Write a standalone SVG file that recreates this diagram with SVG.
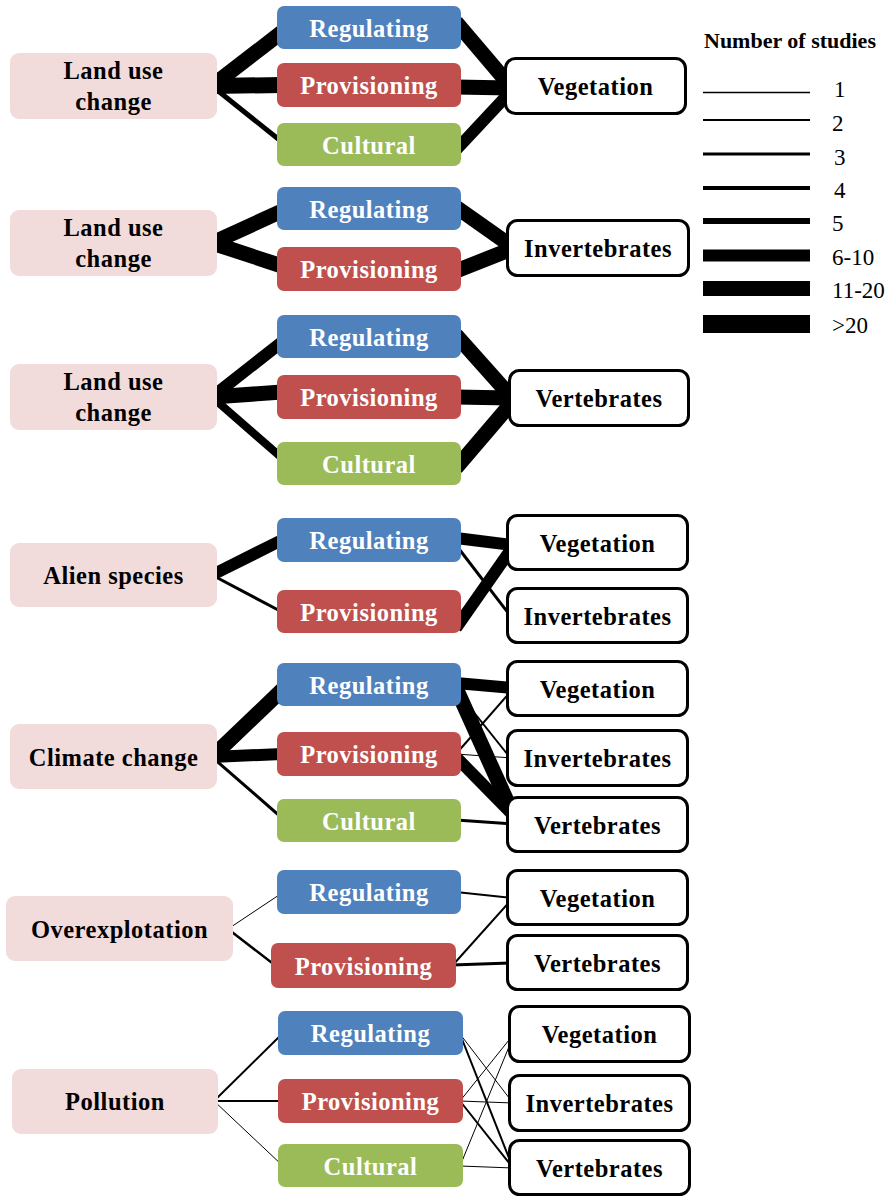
<svg xmlns="http://www.w3.org/2000/svg" width="893" height="1196" viewBox="0 0 893 1196">
<style>
.drv{fill:#F2DCDB}
.reg{fill:#4F81BD}
.pro{fill:#C0504D}
.cul{fill:#9BBB59}
.tgt{fill:#FFFFFF;stroke:#000;stroke-width:3}
.t{font-family:"Liberation Serif","Times New Roman",serif;font-weight:bold;font-size:24.5px;text-anchor:middle;letter-spacing:0.5px}
.w{fill:#FFFFFF}
.k{fill:#000000}
.lg{font-family:"Liberation Serif","Times New Roman",serif;font-size:23px;fill:#000}
.lt{font-family:"Liberation Serif","Times New Roman",serif;font-weight:bold;font-size:22px;fill:#000}
#connectors line,#legend line{stroke:#000;stroke-linecap:butt}
</style>
<rect width="893" height="1196" fill="#FFFFFF"/>
<g id="connectors">
<line x1="212" y1="86" x2="282" y2="32" stroke-width="15"/>
<line x1="212" y1="86" x2="282" y2="85" stroke-width="16"/>
<line x1="212" y1="86" x2="282" y2="142" stroke-width="5"/>
<line x1="456" y1="22" x2="512" y2="88" stroke-width="15"/>
<line x1="456" y1="87" x2="512" y2="88" stroke-width="15"/>
<line x1="456" y1="150" x2="512" y2="90" stroke-width="12"/>
<line x1="212" y1="243" x2="282" y2="211" stroke-width="15"/>
<line x1="212" y1="243" x2="282" y2="266" stroke-width="15"/>
<line x1="456" y1="207" x2="514" y2="248" stroke-width="15"/>
<line x1="456" y1="271" x2="514" y2="248" stroke-width="15"/>
<line x1="212" y1="397" x2="282" y2="342" stroke-width="12"/>
<line x1="212" y1="397" x2="282" y2="392" stroke-width="15"/>
<line x1="212" y1="397" x2="282" y2="458" stroke-width="8"/>
<line x1="456" y1="335" x2="514" y2="400" stroke-width="15"/>
<line x1="456" y1="397" x2="514" y2="398" stroke-width="15"/>
<line x1="456" y1="468" x2="514" y2="400" stroke-width="15"/>
<line x1="212" y1="575" x2="282" y2="540" stroke-width="12"/>
<line x1="212" y1="575" x2="282" y2="612" stroke-width="3"/>
<line x1="456" y1="538" x2="512" y2="545" stroke-width="12"/>
<line x1="456" y1="545" x2="512" y2="618" stroke-width="3"/>
<line x1="456" y1="628" x2="512" y2="548" stroke-width="12"/>
<line x1="212" y1="757" x2="282" y2="690" stroke-width="15"/>
<line x1="212" y1="757" x2="282" y2="754" stroke-width="12"/>
<line x1="212" y1="757" x2="282" y2="818" stroke-width="3"/>
<line x1="456" y1="683" x2="512" y2="688" stroke-width="12"/>
<line x1="456" y1="690" x2="512" y2="760" stroke-width="2"/>
<line x1="456" y1="688" x2="512" y2="812" stroke-width="15"/>
<line x1="456" y1="754" x2="512" y2="690" stroke-width="2"/>
<line x1="456" y1="754" x2="512" y2="758" stroke-width="1"/>
<line x1="456" y1="757" x2="512" y2="814" stroke-width="12"/>
<line x1="456" y1="820" x2="512" y2="824" stroke-width="3"/>
<line x1="228" y1="929" x2="282" y2="893" stroke-width="1"/>
<line x1="228" y1="929" x2="276" y2="966" stroke-width="2.5"/>
<line x1="456" y1="892" x2="512" y2="898" stroke-width="2"/>
<line x1="452" y1="966" x2="512" y2="899" stroke-width="2"/>
<line x1="452" y1="965" x2="512" y2="963" stroke-width="3"/>
<line x1="214" y1="1101" x2="283" y2="1033" stroke-width="2"/>
<line x1="214" y1="1101" x2="283" y2="1101" stroke-width="2"/>
<line x1="214" y1="1101" x2="283" y2="1166" stroke-width="1"/>
<line x1="460" y1="1034" x2="513" y2="1103" stroke-width="1"/>
<line x1="460" y1="1034" x2="513" y2="1168" stroke-width="2"/>
<line x1="460" y1="1101" x2="513" y2="1035" stroke-width="1"/>
<line x1="460" y1="1101" x2="513" y2="1103" stroke-width="1"/>
<line x1="460" y1="1101" x2="513" y2="1168" stroke-width="2"/>
<line x1="460" y1="1166" x2="513" y2="1037" stroke-width="1"/>
<line x1="460" y1="1166" x2="513" y2="1168" stroke-width="1"/>
</g>

<g id="s1-driver"><rect class="drv" x="10" y="53" width="207" height="66" rx="9"/><text class="t k" x="113.5" y="79">Land use</text><text class="t k" x="113.5" y="110">change</text></g>
<g id="s1-reg"><rect class="reg" x="277" y="6" width="184" height="43" rx="7"/><text class="t w" x="369" y="36.5">Regulating</text></g>
<g id="s1-pro"><rect class="pro" x="277" y="63" width="184" height="44" rx="7"/><text class="t w" x="369" y="94">Provisioning</text></g>
<g id="s1-cul"><rect class="cul" x="277" y="123" width="184" height="43" rx="7"/><text class="t w" x="369" y="153.5">Cultural</text></g>
<g id="s1-veg"><rect class="tgt" x="505.5" y="58.5" width="180" height="55" rx="10"/><text class="t k" x="595.5" y="95">Vegetation</text></g>

<g id="s2-driver"><rect class="drv" x="10" y="210" width="207" height="66" rx="9"/><text class="t k" x="113.5" y="236">Land use</text><text class="t k" x="113.5" y="267">change</text></g>
<g id="s2-reg"><rect class="reg" x="277" y="187" width="184" height="43" rx="7"/><text class="t w" x="369" y="217.5">Regulating</text></g>
<g id="s2-pro"><rect class="pro" x="277" y="247" width="184" height="44" rx="7"/><text class="t w" x="369" y="278">Provisioning</text></g>
<g id="s2-inv"><rect class="tgt" x="507.5" y="220.5" width="181" height="55" rx="10"/><text class="t k" x="598" y="257">Invertebrates</text></g>

<g id="s3-driver"><rect class="drv" x="10" y="364" width="207" height="66" rx="9"/><text class="t k" x="113.5" y="390">Land use</text><text class="t k" x="113.5" y="421">change</text></g>
<g id="s3-reg"><rect class="reg" x="277" y="315" width="184" height="43" rx="7"/><text class="t w" x="369" y="345.5">Regulating</text></g>
<g id="s3-pro"><rect class="pro" x="277" y="375" width="184" height="44" rx="7"/><text class="t w" x="369" y="406">Provisioning</text></g>
<g id="s3-cul"><rect class="cul" x="277" y="442" width="184" height="43" rx="7"/><text class="t w" x="369" y="472.5">Cultural</text></g>
<g id="s3-vert"><rect class="tgt" x="509.5" y="370.5" width="179" height="55" rx="10"/><text class="t k" x="599" y="406.5">Vertebrates</text></g>

<g id="s4-driver"><rect class="drv" x="10" y="543" width="207" height="64" rx="9"/><text class="t k" x="113.5" y="584">Alien species</text></g>
<g id="s4-reg"><rect class="reg" x="277" y="518" width="184" height="44" rx="7"/><text class="t w" x="369" y="549">Regulating</text></g>
<g id="s4-pro"><rect class="pro" x="277" y="590" width="184" height="43" rx="7"/><text class="t w" x="369" y="620.5">Provisioning</text></g>
<g id="s4-veg"><rect class="tgt" x="507.5" y="515.5" width="180" height="54" rx="10"/><text class="t k" x="597.5" y="551.5">Vegetation</text></g>
<g id="s4-inv"><rect class="tgt" x="507.5" y="588.5" width="180" height="54" rx="10"/><text class="t k" x="597.5" y="624.5">Invertebrates</text></g>

<g id="s5-driver"><rect class="drv" x="10" y="724" width="207" height="65" rx="9"/><text class="t k" x="113.5" y="766">Climate change</text></g>
<g id="s5-reg"><rect class="reg" x="277" y="663" width="184" height="43" rx="7"/><text class="t w" x="369" y="693.5">Regulating</text></g>
<g id="s5-pro"><rect class="pro" x="277" y="732" width="184" height="44" rx="7"/><text class="t w" x="369" y="763">Provisioning</text></g>
<g id="s5-cul"><rect class="cul" x="277" y="799" width="184" height="43" rx="7"/><text class="t w" x="369" y="829.5">Cultural</text></g>
<g id="s5-veg"><rect class="tgt" x="507.5" y="661.5" width="180" height="54" rx="10"/><text class="t k" x="597.5" y="697.5">Vegetation</text></g>
<g id="s5-inv"><rect class="tgt" x="507.5" y="730.5" width="180" height="55" rx="10"/><text class="t k" x="597.5" y="767">Invertebrates</text></g>
<g id="s5-vert"><rect class="tgt" x="507.5" y="797.5" width="180" height="54" rx="10"/><text class="t k" x="597.5" y="833.5">Vertebrates</text></g>

<g id="s6-driver"><rect class="drv" x="6" y="896" width="227" height="65" rx="9"/><text class="t k" x="119.5" y="937.5">Overexplotation</text></g>
<g id="s6-reg"><rect class="reg" x="277" y="870" width="184" height="44" rx="7"/><text class="t w" x="369" y="901">Regulating</text></g>
<g id="s6-pro"><rect class="pro" x="271" y="943" width="185" height="45" rx="7"/><text class="t w" x="363.5" y="974.5">Provisioning</text></g>
<g id="s6-veg"><rect class="tgt" x="507.5" y="870.5" width="180" height="54" rx="10"/><text class="t k" x="597.5" y="906.5">Vegetation</text></g>
<g id="s6-vert"><rect class="tgt" x="507.5" y="935.5" width="180" height="54" rx="10"/><text class="t k" x="597.5" y="971.5">Vertebrates</text></g>

<g id="s7-driver"><rect class="drv" x="12" y="1069" width="206" height="65" rx="9"/><text class="t k" x="115" y="1110">Pollution</text></g>
<g id="s7-reg"><rect class="reg" x="278" y="1011" width="185" height="44" rx="7"/><text class="t w" x="370.5" y="1042">Regulating</text></g>
<g id="s7-pro"><rect class="pro" x="278" y="1079" width="185" height="44" rx="7"/><text class="t w" x="370.5" y="1110">Provisioning</text></g>
<g id="s7-cul"><rect class="cul" x="278" y="1144" width="185" height="43" rx="7"/><text class="t w" x="370.5" y="1174.5">Cultural</text></g>
<g id="s7-veg"><rect class="tgt" x="509.5" y="1006.5" width="180" height="55" rx="10"/><text class="t k" x="599.5" y="1043">Vegetation</text></g>
<g id="s7-inv"><rect class="tgt" x="509.5" y="1075.5" width="180" height="55" rx="10"/><text class="t k" x="599.5" y="1112">Invertebrates</text></g>
<g id="s7-vert"><rect class="tgt" x="509.5" y="1140.5" width="180" height="54" rx="10"/><text class="t k" x="599.5" y="1176.5">Vertebrates</text></g>

<g id="legend">
<text class="lt" x="704" y="48">Number of studies</text>
<line x1="703" y1="92.5" x2="810" y2="92.5" stroke-width="1.3"/>
<line x1="703" y1="120" x2="810" y2="120" stroke-width="2"/>
<line x1="703" y1="154" x2="810" y2="154" stroke-width="3"/>
<line x1="703" y1="188" x2="810" y2="188" stroke-width="4"/>
<line x1="703" y1="221" x2="810" y2="221" stroke-width="6"/>
<line x1="703" y1="255.5" x2="810" y2="255.5" stroke-width="12"/>
<line x1="703" y1="288.5" x2="810" y2="288.5" stroke-width="15"/>
<line x1="703" y1="324" x2="810" y2="324" stroke-width="18"/>
<text class="lg" x="834" y="97">1</text>
<text class="lg" x="832" y="131">2</text>
<text class="lg" x="834" y="165">3</text>
<text class="lg" x="834" y="198">4</text>
<text class="lg" x="832" y="231">5</text>
<text class="lg" x="832" y="265">6-10</text>
<text class="lg" x="832" y="298">11-20</text>
<text class="lg" x="832" y="333">&gt;20</text>
</g>
</svg>
